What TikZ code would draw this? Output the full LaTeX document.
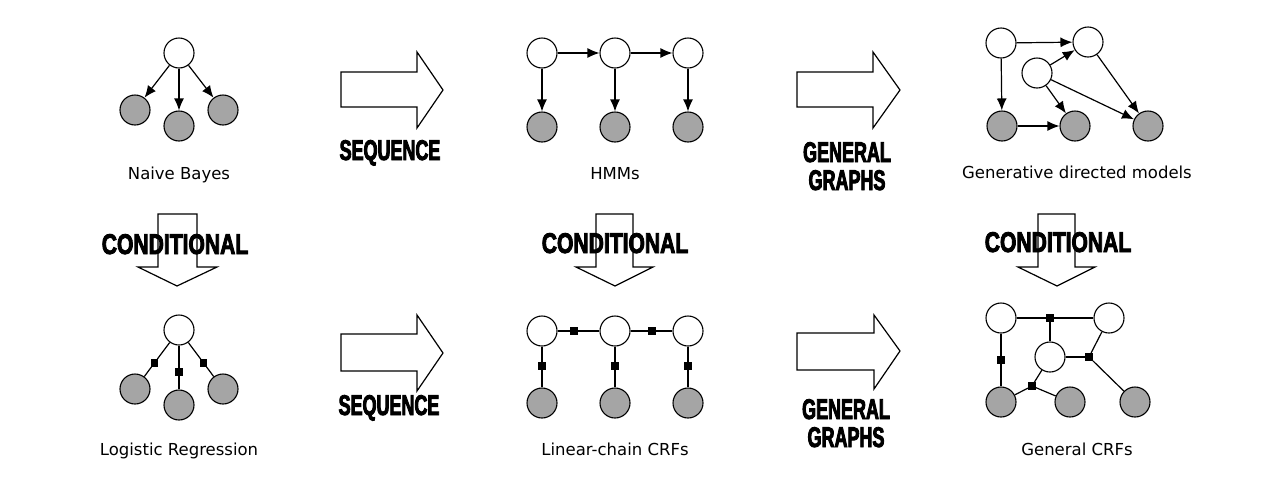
\documentclass[tikz,border=0pt]{standalone}
\usepackage{fontspec}
\setmainfont{DejaVu Sans}
\newfontfamily\bigf{Liberation Sans}[FakeStretch=0.63,FakeBold=3]
\newfontfamily\bigc{Liberation Sans}[FakeStretch=0.74,FakeBold=3]
\usetikzlibrary{arrows.meta,calc}
\definecolor{obsgray}{RGB}{165,165,165}
\tikzset{
  hid/.style={circle,draw=black,fill=white,line width=1.1pt,minimum size=30pt,inner sep=0pt},
  obs/.style={hid,fill=obsgray},
  fac/.style={rectangle,fill=black,minimum size=7.5pt,inner sep=0pt},
  dir/.style={line width=1.2pt,-{Latex[length=12pt,width=10pt]}},
  und/.style={line width=1.2pt},
  lbl/.style={font=\fontsize{16.5}{18}\selectfont,anchor=base,inner sep=0pt},
  bigl/.style={font=\bigf\bfseries\fontsize{28.5}{30}\selectfont,anchor=base,inner sep=0pt},
  bigcl/.style={font=\bigc\bfseries\fontsize{28.5}{30}\selectfont,anchor=base,inner sep=0pt},
  blk/.style={draw=black,fill=white,line width=1.2pt,line join=miter}
}
\begin{document}
\begin{tikzpicture}[x=1pt,y=-1pt]
\useasboundingbox[fill=white] (0,0) rectangle (1280,496);

% ---------- block arrows (right) ----------
\draw[blk] (341,72) -- (417,72) -- (417,52) -- (443,90) -- (417,128) -- (417,107) -- (341,107) -- cycle;
\draw[blk] (797,72) -- (873,72) -- (873,52) -- (900,90) -- (873,128) -- (873,107) -- (797,107) -- cycle;
\draw[blk] (341,334) -- (417,334) -- (417,315) -- (443,353) -- (417,391) -- (417,371) -- (341,371) -- cycle;
\draw[blk] (797,333) -- (874,333) -- (874,315) -- (900,351) -- (874,389) -- (874,370) -- (797,370) -- cycle;
% ---------- block arrows (down) ----------
\draw[blk] (158,214) -- (197,214) -- (197,267) -- (217,267) -- (177,286) -- (138,267) -- (158,267) -- cycle;
\draw[blk] (596,214) -- (633,214) -- (633,267) -- (653,267) -- (615,286) -- (576,267) -- (596,267) -- cycle;
\draw[blk] (1038,214) -- (1075,214) -- (1075,267) -- (1095,267) -- (1057,286) -- (1018,267) -- (1038,267) -- cycle;

% ---------- arrow labels ----------
\node[bigl] (seq1) at (390,160) {SEQUENCE};
\node[bigl] (seq2) at (389,415) {SEQUENCE};
\node[bigl] (gen1) at (847,162) {GENERAL};
\node[bigl] (gra1) at (847,190) {GRAPHS};
\node[bigl] (gen2) at (846,419) {GENERAL};
\node[bigl] (gra2) at (846,447) {GRAPHS};
\node[bigcl] (con1) at (175,254) {CONDITIONAL};
\node[bigcl] (con2) at (615,253) {CONDITIONAL};
\node[bigcl] (con3) at (1058,252) {CONDITIONAL};

% ---------- Naive Bayes ----------
\node[hid] (nb) at (179,53) {};
\node[obs] (nb1) at (135,110) {};
\node[obs] (nb2) at (179,126) {};
\node[obs] (nb3) at (223,110) {};
\draw[dir] (nb) -- (nb1);
\draw[dir] (nb) -- (nb2);
\draw[dir] (nb) -- (nb3);
\node[lbl] (nbl) at (179,179) {Naive Bayes};

% ---------- HMMs ----------
\node[hid] (h1) at (542,53) {};
\node[hid] (h2) at (615,53) {};
\node[hid] (h3) at (688,53) {};
\node[obs] (o1) at (542,127) {};
\node[obs] (o2) at (615,127) {};
\node[obs] (o3) at (688,127) {};
\draw[dir] (h1) -- (h2);
\draw[dir] (h2) -- (h3);
\draw[dir] (h1) -- (o1);
\draw[dir] (h2) -- (o2);
\draw[dir] (h3) -- (o3);
\node[lbl] (hl) at (615,179) {HMMs};

% ---------- Generative directed models ----------
\node[hid] (ga) at (1001,43) {};
\node[hid] (gb) at (1088,42) {};
\node[hid] (gm) at (1037,73) {};
\node[obs] (gc) at (1002,126) {};
\node[obs] (gd) at (1075,126) {};
\node[obs] (ge) at (1148,126) {};
\draw[dir] (ga) -- (gb);
\draw[dir] (ga) -- (gc);
\draw[dir] (gm) -- (gb);
\draw[dir] (gm) -- (gd);
\draw[dir] (gm) -- (ge);
\draw[dir] (gb) -- (ge);
\draw[dir] (gc) -- (gd);
\node[lbl] (gl) at (1077,178) {Generative directed models};

% ---------- Logistic Regression ----------
\node[hid] (lr) at (179,330) {};
\node[obs] (lr1) at (135,389) {};
\node[obs] (lr2) at (179,405) {};
\node[obs] (lr3) at (223,389) {};
\node[fac] (lf1) at ($(lr)!0.56!(lr1)$) {};
\node[fac] (lf2) at ($(lr)!0.56!(lr2)$) {};
\node[fac] (lf3) at ($(lr)!0.56!(lr3)$) {};
\draw[und] (lr) -- (lf1) -- (lr1);
\draw[und] (lr) -- (lf2) -- (lr2);
\draw[und] (lr) -- (lf3) -- (lr3);
\node[lbl] (lrl) at (179,455) {Logistic Regression};

% ---------- Linear-chain CRFs ----------
\node[hid] (c1) at (542,331) {};
\node[hid] (c2) at (615,331) {};
\node[hid] (c3) at (688,331) {};
\node[obs] (d1) at (542,403) {};
\node[obs] (d2) at (615,403) {};
\node[obs] (d3) at (688,403) {};
\node[fac] (cf12) at (574,331) {};
\node[fac] (cf23) at (652,331) {};
\node[fac] (cv1) at (542,366) {};
\node[fac] (cv2) at (615,366) {};
\node[fac] (cv3) at (688,366) {};
\draw[und] (c1) -- (cf12) -- (c2);
\draw[und] (c2) -- (cf23) -- (c3);
\draw[und] (c1) -- (cv1) -- (d1);
\draw[und] (c2) -- (cv2) -- (d2);
\draw[und] (c3) -- (cv3) -- (d3);
\node[lbl] (ccl) at (615,455) {Linear-chain CRFs};

% ---------- General CRFs ----------
\node[hid] (ka) at (1001,318) {};
\node[hid] (kb) at (1109,318) {};
\node[hid] (km) at (1050,357) {};
\node[obs] (kc) at (1001,402) {};
\node[obs] (kd) at (1070,402) {};
\node[obs] (ke) at (1135,402) {};
\node[fac] (kft) at (1050,318) {};
\node[fac] (kfl) at (1001,360) {};
\node[fac] (kfr) at (1089,357) {};
\node[fac] (kfb) at (1032,386) {};
\draw[und] (ka) -- (kft) -- (kb);
\draw[und] (kft) -- (km);
\draw[und] (ka) -- (kfl) -- (kc);
\draw[und] (km) -- (kfr);
\draw[und] (kb) -- (kfr) -- (ke);
\draw[und] (km) -- (kfb);
\draw[und] (kc) -- (kfb) -- (kd);
\node[lbl] (kl) at (1077,455) {General CRFs};
\end{tikzpicture}
\end{document}
